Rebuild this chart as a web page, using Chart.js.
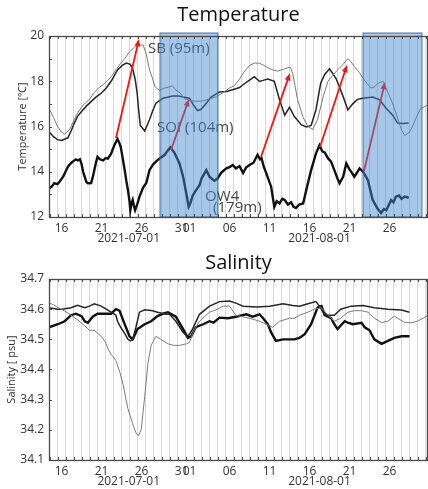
<!DOCTYPE html>
<html>
<head>
<meta charset="utf-8">
<script src="https://cdn.jsdelivr.net/npm/chart.js@4.4.1/dist/chart.umd.min.js"></script>
<style>
    body { margin: 0; background: #fff; }
    #wrap { position: relative; width: 428px; height: 489px; }
    canvas { position: absolute; left: 0; }
</style>
</head>
<body>
<div id="wrap">
    <canvas id="tempChart" width="428" height="246" style="top:0"></canvas>
    <canvas id="salChart" width="428" height="243" style="top:246px"></canvas>
</div>
<script>
// x values are days counted from the first "16" tick
const tickDays = [0, 5, 10, 15, 16, 21, 26, 31, 36, 41];
const tickLabels = ['16', '21', '26', '31', '01', '06', '11', '16', '21', '26'];
const monthDays = [8.4, 32.25];
const monthLabels = ['2021-07-01', '2021-08-01'];
const tempTicks = [12, 14, 16, 18, 20];
const salTicks = [34.1, 34.2, 34.3, 34.4, 34.5, 34.6, 34.7];

// Temperature, SB (95m)
const sbTempDays = [-1.56, -1.0, -0.5, 0.0, 0.4, 1.0, 1.5, 2.0, 2.5, 3.0,
    3.5, 4.1, 4.6, 5.2, 5.8, 6.2, 6.8, 7.4, 7.9, 8.5,
    9.1, 9.7, 10.2, 10.6, 11.0, 11.4, 11.7, 12.25, 12.9, 13.5,
    13.9, 14.3, 14.8, 15.3, 16.0, 16.8, 17.5, 18.5, 19.4, 20.2,
    21.0, 21.6, 22.25, 22.8, 23.5, 24.1, 24.75, 25.3, 25.8, 26.4,
    27.0, 27.5, 27.9, 28.3, 28.6, 28.9, 29.5, 30.2, 30.8, 31.4,
    32.0, 32.7, 33.3, 33.9, 34.5, 35.2, 35.8, 36.2, 36.6, 37.2,
    37.7, 38.2, 38.7, 39.1, 39.5, 40.2, 40.8, 41.3, 41.8, 42.2,
    42.5, 42.9, 43.5, 44.0, 44.3, 44.9, 45.5, 45.81];
const sbTemp = [16.8, 16.4, 16.0, 15.75, 15.67, 15.85, 16.25, 16.6, 16.85, 17.05,
    17.2, 17.5, 17.7, 17.85, 18.05, 18.2, 18.5, 18.8, 19.0, 19.3,
    19.5, 19.6, 19.6, 19.2, 18.5, 18.1, 17.75, 17.6, 17.7, 17.75,
    17.8, 17.6, 17.5, 17.25, 17.15, 17.12, 17.12, 17.22, 17.32, 17.5,
    17.7, 17.8, 18.1, 18.4, 18.7, 18.8, 18.8, 18.7, 18.6, 18.5,
    18.45, 18.5, 18.55, 18.6, 18.62, 18.35, 17.2, 16.4, 16.0, 15.87,
    16.3, 17.3, 18.0, 18.25, 18.5, 18.75, 19.0, 18.85, 18.65, 18.4,
    18.13, 17.9, 17.7, 17.75, 17.9, 18.0, 17.5, 17.1, 16.6, 16.15,
    15.85, 15.6, 15.75, 16.1, 16.37, 16.8, 16.9, 16.95];

// Temperature, SOI (104m)
const soiTempDays = [-1.56, -1.0, -0.5, 0.0, 0.8, 1.2, 1.6, 2.0, 2.5, 3.1,
    3.7, 4.3, 4.96, 5.6, 6.2, 6.6, 7.0, 7.6, 8.1, 8.6,
    8.9, 9.2, 9.45, 9.65, 9.85, 10.4, 11.0, 11.4, 11.8, 12.7,
    13.9, 14.6, 15.2, 16.0, 16.5, 17.0, 17.4, 17.8, 18.7, 19.75,
    20.6, 21.6, 22.25, 22.9, 23.5, 24.1, 24.75, 25.3, 25.8, 26.6,
    27.25, 27.9, 28.5, 29.1, 30.0, 30.6, 31.2, 31.8, 32.4, 32.9,
    33.5, 34.3, 34.8, 35.2, 35.8, 36.4, 37.0, 37.7, 38.9, 39.75,
    40.6, 41.4, 42.0, 42.7, 43.4];
const soiTemp = [15.77, 15.55, 15.42, 15.38, 15.5, 15.8, 16.15, 16.45, 16.66, 16.9,
    17.1, 17.3, 17.47, 17.7, 18.0, 18.25, 18.5, 18.7, 18.8, 18.75,
    18.55, 18.1, 17.5, 16.7, 16.05, 15.8, 16.3, 16.7, 17.03, 17.25,
    17.35, 17.35, 17.3, 17.25, 16.95, 16.7, 16.75, 16.9, 17.3, 17.53,
    17.55, 17.65, 17.72, 17.9, 18.05, 18.2, 17.99, 18.05, 18.1, 18.0,
    17.18, 16.5, 16.85, 16.44, 16.07, 15.98, 16.05, 16.73, 17.92, 18.3,
    18.55, 18.13, 17.7, 17.32, 16.73, 17.0, 17.2, 17.25, 17.3, 17.18,
    16.8, 16.5, 16.15, 16.13, 16.15];

// Temperature, OW4 (179m)
const ow4TempDays = [-1.56, -1.2, -0.9, -0.5, -0.25, 0.2, 0.5, 0.8, 1.1, 1.4,
    1.8, 2.04, 2.3, 2.5, 2.7, 2.9, 3.1, 3.3, 3.7, 3.9,
    4.1, 4.3, 4.5, 4.8, 5.2, 5.5, 5.8, 6.2, 6.6, 7.0,
    7.2, 7.4, 7.6, 7.9, 8.1, 8.3, 8.5, 8.6, 8.75, 8.9,
    9.05, 9.2, 9.5, 9.75, 10.2, 10.6, 11.0, 11.4, 11.8, 12.3,
    12.9, 13.2, 13.6, 14.1, 14.75, 15.2, 15.6, 15.9, 16.1, 16.4,
    16.8, 17.25, 17.5, 18.1, 18.5, 19.1, 19.5, 19.95, 20.6, 21.0,
    21.4, 21.8, 22.25, 22.7, 23.1, 23.5, 24.0, 24.5, 24.8, 25.0,
    25.3, 25.6, 26.2, 26.6, 26.9, 27.25, 27.6, 27.9, 28.3, 28.7,
    29.0, 29.3, 29.7, 30.2, 30.6, 31.2, 31.8, 32.25, 32.6, 32.9,
    33.3, 33.7, 34.1, 34.5, 34.75, 35.2, 35.6, 36.0, 36.3, 36.6,
    37.0, 37.25, 37.7, 38.3, 38.9, 39.5, 39.95, 40.3, 40.6, 41.2,
    41.5, 41.8, 42.2, 42.5, 42.9, 43.4];
const ow4Temp = [13.25, 13.35, 13.5, 13.45, 13.56, 13.78, 14.0, 14.22, 14.35, 14.45,
    14.55, 14.5, 14.55, 14.35, 14.0, 13.78, 13.55, 13.49, 13.5, 13.75,
    14.07, 14.4, 14.66, 14.55, 14.5, 14.6, 14.58, 14.8, 15.17, 15.45,
    15.3, 15.1, 14.7, 14.07, 13.6, 13.2, 12.7, 12.3, 12.6, 12.75,
    12.5, 12.3, 12.6, 12.9, 13.3, 13.5, 14.07, 14.3, 14.45, 14.6,
    14.75, 14.9, 15.08, 14.85, 14.37, 13.78, 13.04, 12.45, 12.6, 12.95,
    13.18, 13.4, 13.7, 14.07, 13.78, 13.6, 13.7, 13.95, 14.15, 14.2,
    14.3, 14.15, 14.25, 13.95, 14.2, 14.3, 14.4, 14.75, 14.55, 14.6,
    14.2, 13.93, 13.34, 12.45, 12.7, 12.6, 12.8, 12.75, 12.55, 12.65,
    12.45, 12.4, 12.55, 12.6, 13.2, 14.07, 14.8, 15.17, 14.9, 14.85,
    14.6, 14.45, 14.07, 13.7, 13.49, 13.78, 14.37, 14.1, 13.95, 13.78,
    14.0, 14.15, 14.0, 13.63, 12.75, 12.37, 12.18, 12.35, 12.3, 12.75,
    12.65, 12.9, 12.95, 12.8, 12.9, 12.85];

// Salinity, SB
const sbSalDays = [-1.56, -1.0, -0.46, 0.4, 1.2, 2.0, 2.9, 3.5, 4.1, 4.96,
    5.5, 5.8, 6.2, 6.8, 7.3, 7.7, 8.3, 8.9, 9.3, 9.6,
    9.96, 10.2, 10.4, 10.8, 11.2, 11.8, 12.4, 13.3, 14.0, 14.75,
    15.6, 16.0, 16.4, 16.8, 17.25, 18.5, 19.5, 20.2, 21.0, 21.8,
    22.6, 23.5, 24.75, 25.6, 26.0, 26.4, 27.25, 28.5, 29.1, 29.75,
    30.8, 31.6, 32.5, 33.3, 34.1, 34.9, 35.8, 36.6, 37.5, 38.3,
    39.1, 40.0, 40.8, 41.6, 42.3, 42.9, 43.7, 44.5, 45.2, 45.81];
const sbSal = [34.62, 34.615, 34.605, 34.594, 34.58, 34.565, 34.545, 34.53, 34.53, 34.51,
    34.49, 34.47, 34.45, 34.43, 34.39, 34.35, 34.27, 34.22, 34.19, 34.18,
    34.2, 34.26, 34.31, 34.42, 34.48, 34.51, 34.5, 34.485, 34.48, 34.48,
    34.485, 34.49, 34.52, 34.54, 34.56, 34.59, 34.6, 34.61, 34.61, 34.58,
    34.575, 34.57, 34.56, 34.55, 34.545, 34.54, 34.56, 34.57, 34.57, 34.58,
    34.59, 34.6, 34.605, 34.58, 34.56, 34.57, 34.59, 34.595, 34.595, 34.59,
    34.57, 34.556, 34.56, 34.577, 34.565, 34.556, 34.555, 34.56, 34.57, 34.58];

// Salinity, SOI
const soiSalDays = [-1.56, -0.5, 0.0, 1.2, 2.0, 2.9, 3.5, 4.1, 4.96, 5.6,
    6.2, 6.8, 7.0, 7.4, 7.9, 8.3, 8.6, 8.9, 9.3, 9.75,
    10.4, 11.4, 12.0, 13.1, 13.5, 14.3, 15.2, 15.8, 16.3, 17.25,
    18.5, 19.75, 21.0, 21.8, 22.7, 24.4, 26.0, 27.7, 28.9, 29.75,
    30.8, 31.8, 32.25, 32.7, 33.3, 34.1, 34.9, 36.2, 37.7, 39.1,
    40.8, 42.5, 43.5];
const soiSal = [34.605, 34.6, 34.6, 34.605, 34.613, 34.605, 34.61, 34.618, 34.61, 34.6,
    34.59, 34.58, 34.56, 34.54, 34.52, 34.5, 34.495, 34.5, 34.54, 34.59,
    34.598, 34.595, 34.59, 34.583, 34.583, 34.56, 34.523, 34.51, 34.53, 34.583,
    34.61, 34.625, 34.627, 34.62, 34.61, 34.607, 34.61, 34.618, 34.612, 34.61,
    34.618, 34.625, 34.61, 34.59, 34.58, 34.58, 34.6, 34.61, 34.612, 34.605,
    34.6, 34.597, 34.59];

// Salinity, OW4
const ow4SalDays = [-1.56, -0.46, 0.4, 1.2, 1.8, 2.5, 2.9, 3.3, 3.9, 4.5,
    5.6, 6.2, 6.8, 7.25, 7.9, 8.5, 8.9, 9.5, 10.4, 11.2,
    12.0, 12.7, 13.3, 14.3, 15.2, 15.8, 16.2, 16.8, 17.7, 18.5,
    19.0, 19.75, 20.8, 21.8, 23.1, 23.9, 24.75, 25.2, 25.8, 26.2,
    26.8, 27.7, 28.5, 29.1, 29.75, 30.4, 31.2, 32.0, 32.5, 32.9,
    33.7, 34.1, 34.5, 35.4, 35.8, 36.4, 37.5, 37.9, 38.5, 39.1,
    40.0, 40.8, 41.6, 42.5, 43.5];
const ow4Sal = [34.54, 34.55, 34.56, 34.58, 34.585, 34.577, 34.56, 34.555, 34.575, 34.585,
    34.585, 34.585, 34.6, 34.595, 34.55, 34.51, 34.5, 34.534, 34.55, 34.56,
    34.577, 34.585, 34.59, 34.575, 34.534, 34.505, 34.51, 34.54, 34.55, 34.56,
    34.555, 34.572, 34.57, 34.575, 34.583, 34.575, 34.583, 34.57, 34.55, 34.523,
    34.495, 34.5, 34.5, 34.5, 34.505, 34.517, 34.55, 34.605, 34.61, 34.58,
    34.57, 34.55, 34.534, 34.56, 34.555, 34.55, 34.555, 34.54, 34.53, 34.5,
    34.485, 34.495, 34.505, 34.51, 34.51];

// annotations on the temperature panel (day, value)
const stationLabels = [
    { text: 'SB (95m)', day: 10.8, value: 19.43 },
    { text: 'SOI (104m)', day: 11.95, value: 15.93 },
    { text: 'OW4', day: 17.95, value: 12.88 },
    { text: '(179m)', day: 18.95, value: 12.4 }
];
const arrows = [
    [6.81, 15.49, 9.69, 19.87],
    [13.69, 14.96, 15.94, 17.22],
    [24.94, 14.65, 28.56, 18.36],
    [32.31, 15.09, 35.69, 18.72],
    [37.81, 14.03, 40.44, 17.97]
];
const periods = [[12.31, 19.56], [37.69, 45.06]];

const xMin = -1.5625, xMax = 45.81;
const FONT = '"Open Sans", sans-serif';

const toPoints = (days, vals) => days.map((d, i) => ({ x: d, y: vals[i] }));

const drawArrow = (ctx, x1, y1, x2, y2) => {
    const ang = Math.atan2(y2 - y1, x2 - x1);
    const head = 8;
    ctx.strokeStyle = 'rgb(245,20,20)';
    ctx.fillStyle = 'rgb(245,20,20)';
    ctx.lineWidth = 1.8;
    ctx.beginPath();
    ctx.moveTo(x1, y1);
    ctx.lineTo(x2 - Math.cos(ang) * head * 0.8, y2 - Math.sin(ang) * head * 0.8);
    ctx.stroke();
    ctx.beginPath();
    ctx.moveTo(x2, y2);
    ctx.lineTo(x2 - head * Math.cos(ang - 0.38), y2 - head * Math.sin(ang - 0.38));
    ctx.lineTo(x2 - head * Math.cos(ang + 0.38), y2 - head * Math.sin(ang + 0.38));
    ctx.closePath();
    ctx.fill();
}

const makeOverlay = (labels, arrowList, boxes, yMinorStep) => ({
    id: 'overlay',
    afterDatasetsDraw(chart) {
        const { ctx, chartArea: a, scales: { x, y } } = chart;
        ctx.save();
        ctx.font = '15px ' + FONT;
        ctx.fillStyle = '#454545';
        ctx.textBaseline = 'middle';
        labels.forEach(l => ctx.fillText(l.text, x.getPixelForValue(l.day), y.getPixelForValue(l.value)));
        arrowList.forEach(r => drawArrow(ctx,
            x.getPixelForValue(r[0]), y.getPixelForValue(r[1]),
            x.getPixelForValue(r[2]), y.getPixelForValue(r[3])));
        boxes.forEach(b => {
            const l = x.getPixelForValue(b[0]), r = x.getPixelForValue(b[1]);
            ctx.fillStyle = 'rgba(66,136,206,0.47)';
            ctx.fillRect(l, a.top - 3, r - l, a.bottom - a.top + 3);
            ctx.strokeStyle = 'rgba(50,95,150,0.85)';
            ctx.lineWidth = 1;
            ctx.strokeRect(l, a.top - 3, r - l, a.bottom - a.top + 3);
        });
        ctx.restore();
    },
    afterDraw(chart) {
        const { ctx, chartArea: a, scales: { x, y } } = chart;
        ctx.save();
        ctx.strokeStyle = '#4a4a4a';
        ctx.lineWidth = 1;
        ctx.beginPath();
        for (let d = Math.ceil(xMin) - 0.45; d < xMax; d++) {
            const px = Math.round(x.getPixelForValue(d)) + 0.5;
            ctx.moveTo(px, a.top); ctx.lineTo(px, a.top + 3);
            ctx.moveTo(px, a.bottom); ctx.lineTo(px, a.bottom - 3);
        }
        for (let v = y.min + yMinorStep; v < y.max - 1e-6; v += yMinorStep) {
            const py = Math.round(y.getPixelForValue(v)) + 0.5;
            ctx.moveTo(a.left, py); ctx.lineTo(a.left + 3, py);
        }
        ctx.stroke();
        ctx.lineWidth = 1.3;
        ctx.strokeRect(a.left + 0.5, a.top + 0.5, a.right - a.left - 1, a.bottom - a.top);
        ctx.restore();
    }
});

const makeConfig = (opts) => ({
    type: 'line',
    data: {
        datasets: [
            { data: opts.sb, borderColor: '#7a7a7a', borderWidth: 1 },
            { data: opts.soi, borderColor: '#262626', borderWidth: 1.5 },
            { data: opts.ow4, borderColor: '#111', borderWidth: 2.4 }
        ]
    },
    options: {
        responsive: false,
        animation: false,
        devicePixelRatio: 1,
        layout: { padding: { left: 0, right: 0, top: 0, bottom: 0 } },
        elements: { point: { radius: 0 }, line: { tension: 0 } },
        plugins: {
            legend: { display: false },
            tooltip: { enabled: false },
            title: {
                display: true,
                fullSize: false,
                text: opts.title,
                color: '#111',
                font: { family: FONT, size: 20, weight: 'normal' },
                padding: opts.titlePadding
            }
        },
        scales: {
            x: {
                type: 'linear', min: xMin, max: xMax, position: 'bottom', weight: 0,
                grid: { display: false, drawTicks: false }, border: { display: false },
                afterBuildTicks: s => { s.ticks = tickDays.map(v => ({ value: v })); },
                ticks: {
                    autoSkip: false, maxRotation: 0, padding: 4, color: '#333',
                    font: { family: FONT, size: 12 },
                    callback: (v, i) => tickLabels[i]
                },
                afterFit: s => { s.height = 15; }
            },
            months: {
                type: 'linear', min: xMin, max: xMax, position: 'bottom', weight: 1,
                grid: { display: false, drawTicks: false }, border: { display: false },
                afterBuildTicks: s => { s.ticks = monthDays.map(v => ({ value: v })); },
                ticks: {
                    autoSkip: false, maxRotation: 0, padding: -1, color: '#333',
                    font: { family: FONT, size: 12 },
                    callback: (v, i) => monthLabels[i]
                },
                afterFit: s => { s.height = 14; }
            },
            days: {
                type: 'linear', min: xMin, max: xMax, position: 'bottom', weight: -1,
                ticks: { display: false },
                grid: { color: '#d8d8d8', lineWidth: 1, drawTicks: false },
                border: { display: false },
                afterBuildTicks: s => {
                    const t = [];
                    for (let d = Math.ceil(xMin) - 0.45; d < xMax; d++) t.push({ value: d });
                    s.ticks = t;
                },
                afterFit: s => { s.height = 0; }
            },
            y: {
                min: opts.yTicks[0], max: opts.yTicks[opts.yTicks.length - 1],
                grid: { display: false, drawTicks: false }, border: { display: false },
                afterBuildTicks: s => { s.ticks = opts.yTicks.map(v => ({ value: v })); },
                ticks: {
                    padding: 5, color: '#333',
                    font: { family: FONT, size: 12 },
                    callback: v => opts.yFormat(v)
                },
                title: {
                    display: true, text: opts.yTitle, color: '#333',
                    font: { family: FONT, size: 11 },
                    padding: { top: opts.yTitlePad, bottom: 0 }
                },
                afterFit: s => { s.width = 49; }
            }
        }
    }
});

new Chart(document.getElementById('tempChart'), {
    ...makeConfig({
        title: 'Temperature',
        titlePadding: { top: 3, bottom: 9 },
        sb: toPoints(sbTempDays, sbTemp),
        soi: toPoints(soiTempDays, soiTemp),
        ow4: toPoints(ow4TempDays, ow4Temp),
        yTicks: tempTicks,
        yFormat: v => String(v),
        yTitle: 'Temperature [℃]',
        yTitlePad: 16
    }),
    plugins: [makeOverlay(stationLabels, arrows, periods, 1)]
});

new Chart(document.getElementById('salChart'), {
    ...makeConfig({
        title: 'Salinity',
        titlePadding: { top: 5, bottom: 4 },
        sb: toPoints(sbSalDays, sbSal),
        soi: toPoints(soiSalDays, soiSal),
        ow4: toPoints(ow4SalDays, ow4Sal),
        yTicks: salTicks,
        yFormat: v => v.toFixed(1),
        yTitle: 'Salinity [ psu]',
        yTitlePad: 5
    }),
    plugins: [makeOverlay([], [], [], 0.1)]
});
</script>
</body>
</html>
